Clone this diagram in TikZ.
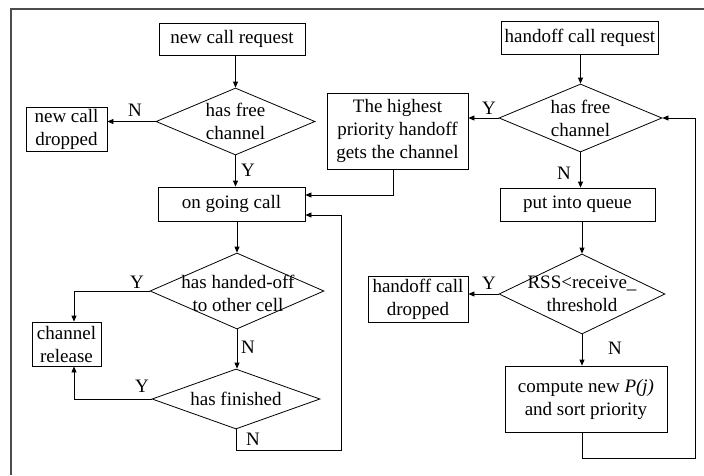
\documentclass[tikz,border=0pt]{standalone}
\usepackage{fontspec}
\setmainfont{Liberation Serif}
\usetikzlibrary{shapes.geometric,arrows.meta}
\begin{document}
\begin{tikzpicture}[x=1pt,y=-1pt,
  font=\fontsize{19}{23}\selectfont,
  box/.style={draw, line width=0.8pt, align=center, inner sep=0pt},
  dia/.style={draw, diamond, line width=0.8pt, inner sep=0pt},
  dtext/.style={align=center, inner sep=0pt},
  lab/.style={inner sep=0pt},
  arr/.style={line width=0.8pt, -{Triangle[length=6pt,width=5pt]}},
  conn/.style={line width=0.8pt}]
\useasboundingbox (0,0) rectangle (704,475);
\draw[black!70, line width=1.5pt] (11,475) -- (11,9) -- (704,9);

% left column
\node[box, minimum width=146pt, minimum height=32pt] (ncr) at (232,39) {new call request};
\node[dia, minimum width=159pt, minimum height=67pt] (d1) at (235.5,121.5) {};
\node[dtext] (d1t) at (d1) {has free\\channel};
\node[box, minimum width=81pt, minimum height=44pt] (ncd) at (66.5,129) {new call\\dropped};
\node[box, minimum width=147pt, minimum height=34pt] (ogc) at (231.5,204) {on going call};
\node[dia, minimum width=174pt, minimum height=76pt] (d3) at (237,291) {};
\node[dtext] (d3t) at (238,293) {has handed-off\\to other cell};
\node[box, minimum width=69pt, minimum height=44pt] (cr) at (66.5,344) {channel\\release};
\node[dia, minimum width=168pt, minimum height=60pt] (d4) at (236,399) {};
\node[dtext] (d4t) at (d4) {has finished};

% right column
\node[box, minimum width=157pt, minimum height=33pt] (hcr) at (580,37.5) {handoff call request};
\node[dia, minimum width=163pt, minimum height=68pt] (d2) at (580.5,118) {};
\node[dtext] (d2t) at (d2) {has free\\channel};
\node[box, minimum width=141pt, minimum height=76pt] (hp) at (397.5,131) {The highest\\priority handoff\\gets the channel};
\node[box, minimum width=155pt, minimum height=33pt] (piq) at (577.5,204.5) {put into queue};
\node[dia, minimum width=166pt, minimum height=80pt] (d5) at (582,294) {};
\node[dtext] (d5t) at (d5) {RSS<receive\_\\threshold};
\node[box, minimum width=100pt, minimum height=46pt] (hcd) at (418,299) {handoff call\\dropped};
\node[box, minimum width=162pt, minimum height=66pt] (cnp) at (586,399) {compute new \textit{P(j)}\\and sort priority};

% labels
\node[lab] (l1) at (135,110) {N};
\node[lab] (l2) at (248,170) {Y};
\node[lab] (l3) at (137,282) {Y};
\node[lab] (l4) at (248,347) {N};
\node[lab] (l5) at (142,386) {Y};
\node[lab] (l6) at (253,439) {N};
\node[lab] (l7) at (489,108) {Y};
\node[lab] (l8) at (564,173) {N};
\node[lab] (l9) at (489,283) {Y};
\node[lab] (l10) at (615,348) {N};

% coordinates
\coordinate (jhp) at (393,195);
\coordinate (jl) at (74,0);
\coordinate (jr1) at (341,450);
\coordinate (jr2) at (695,458);
\coordinate (jogc) at (0,215);

% left connectors
\draw[arr] (d1.north |- ncr.south) -- (d1.north);
\draw[arr] (d1.west) -- (d1.west -| ncd.east);
\draw[arr] (d1.south) -- (d1.south |- ogc.north);
\draw[arr] (d3.north |- ogc.south) -- (d3.north);
\draw[arr] (d3.west) -| (jl |- cr.north);
\draw[arr] (d3.south) -- (d3.south |- d4.north);
\draw[arr] (d4.west) -| (jl |- cr.south);
\draw[arr] (d4.south) |- (jr1) |- (jogc -| ogc.east);
\draw[arr] (jhp |- hp.south) |- (jhp -| ogc.east);

% right connectors
\draw[arr] (d2.north |- hcr.south) -- (d2.north);
\draw[arr] (d2.west) -- (d2.west -| hp.east);
\draw[arr] (d2.south) -- (d2.south |- piq.north);
\draw[arr] (d5.north |- piq.south) -- (d5.north);
\draw[arr] (d5.west) -- (d5.west -| hcd.east);
\draw[arr] (d5.south) -- (d5.south |- cnp.north);
\draw[arr] (d5.south |- cnp.south) |- (jr2) |- (d2.east);
\end{tikzpicture}
\end{document}
